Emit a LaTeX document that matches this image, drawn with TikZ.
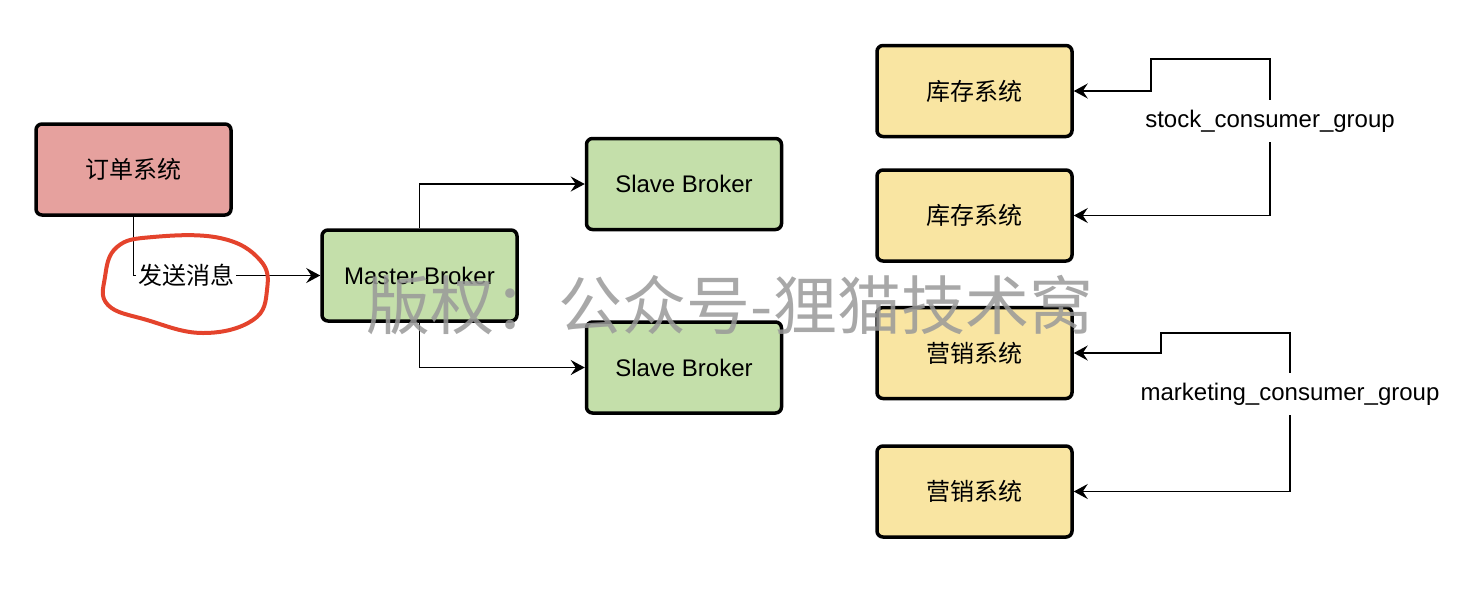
\documentclass[tikz,border=0pt]{standalone}
\usepackage{fontspec}
\setmainfont{Liberation Sans}
\newfontfamily\cjk{Noto Sans CJK SC}
\usetikzlibrary{arrows.meta,positioning}
\definecolor{redbox}{HTML}{E6A19E}
\definecolor{greenbox}{HTML}{C4DFAA}
\definecolor{yellowbox}{HTML}{F9E5A2}
\definecolor{pen}{HTML}{E4432C}
\begin{document}
\begin{tikzpicture}[x=0.5pt, y=-0.5pt, node distance={15pt},
main/.style = {draw, line width=1.75pt, rounded corners=3pt, minimum width=97.5pt, minimum height=45.5pt, font=\fontsize{12}{14}\selectfont},
line/.style = {line width=0.9pt, -{Stealth[length=7pt, width=7.5pt, inset=2.5pt]}},
group/.style = {minimum height=21pt, inner xsep=1pt, font=\fontsize{12}{14}\selectfont}]
\useasboundingbox (0,0) rectangle (1470,606);

\node[main, fill=redbox] (1) at (133.5,169.5) {\cjk 订单系统};
\node[main, fill=greenbox] (2) at (419.5,275.5) {Master Broker};
\node[main, fill=greenbox] (3) at (684,184) {Slave Broker};
\node[main, fill=greenbox] (4) at (684,367.5) {Slave Broker};

\node[main, fill=yellowbox] (5) at (974.5,91) {\cjk 库存系统};
\node[main, fill=yellowbox] (6) [below=of 5] {\cjk 库存系统};
\node[main, fill=yellowbox] (7) at (974.5,353) {\cjk 营销系统};
\node[main, fill=yellowbox] (8) [below=22pt of 7] {\cjk 营销系统};

\node[group] (9) at (1270,121) {stock\_consumer\_group};
\node[group] (10) at (1290,394) {marketing\_consumer\_group};

\draw[line] (1.south) |- node[pos=0.5, anchor=west, xshift=1pt, fill=white, inner xsep=1pt, font=\cjk\fontsize{12}{14}\selectfont] {发送消息} (2.west);
\draw[line] (2.north) |- (3.west);
\draw[line] (2.south) |- (4.west);

\draw[line] (9.north) |- (1151,59) |- (5.east);
\draw[line] (9.south) |- (6.east);
\draw[line] (10.north) |- (1161,333) |- (7.east);
\draw[line] (10.south) |- (8.east);

% hand drawn mark
\draw[pen, line width=2pt, line cap=round] plot[smooth cycle, tension=0.7] coordinates {(117,247) (153,237) (220,238) (260,260) (267,290) (253,320) (203,333) (147,320) (108,305) (105,277)};

\node[text=black!40, opacity=0.85, font=\cjk\fontsize{32}{36}\selectfont] (11) at (730,305) {版权：公众号-狸猫技术窝};
\end{tikzpicture}
\end{document}
